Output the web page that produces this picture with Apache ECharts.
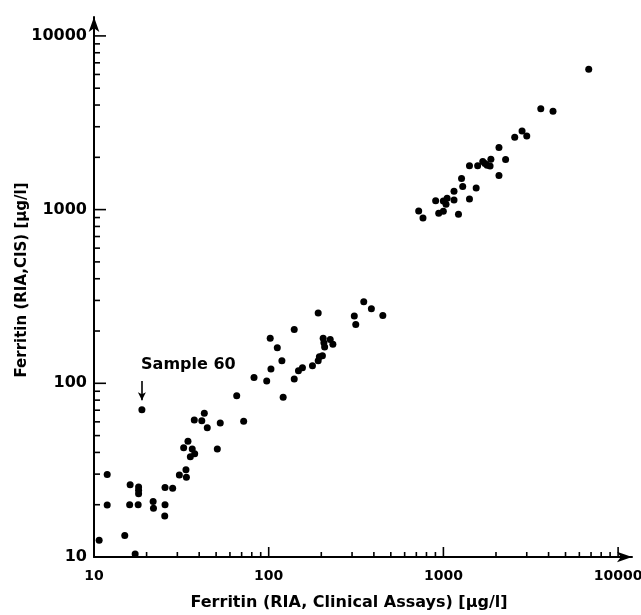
<!DOCTYPE html>
<html>
<head>
<meta charset="utf-8">
<script src="https://cdn.jsdelivr.net/npm/echarts@6/dist/echarts.min.js"></script>
<style>
  html, body { margin: 0; background: #fff; }
  #chart { width: 641px; height: 615px; }
</style>
</head>
<body>
<div id="chart"></div>
<script>
// Ferritin, clinical assays (x) vs RIA CIS (y), µg/l
const clinicalAssays = [
  10.7, 11.9, 11.9, 15.0, 16.1, 16.0, 17.2, 18.0, 18.0, 18.0, 17.9, 18.8,
  21.8, 21.9, 25.5, 25.5, 25.4, 28.2, 30.8, 33.6, 33.8, 32.6, 34.5, 36.5,
  35.6, 37.7, 37.5, 41.4, 42.8, 44.5, 50.8, 52.8, 65.6, 71.9, 82.4, 97.4,
  103, 121, 119, 112, 102, 140, 140, 148, 156, 178, 192, 195, 203, 192,
  205, 207, 209, 225, 233, 309, 315, 350, 387, 450,
  6790, 3610, 4240, 2820, 2560, 3000, 2080, 2270, 1870, 1680, 1730, 1780,
  1850, 1410, 1570, 2080, 1270, 1290, 1540, 1150, 1150, 1410, 903, 999,
  1050, 1035, 940, 999, 1220, 722, 764
];
const ciaCis = [
  12.5, 29.9, 19.9, 13.3, 26.1, 20.0, 10.4, 25.3, 24.2, 23.1, 20.0, 70.5,
  20.9, 19.1, 25.1, 20.0, 17.2, 24.9, 29.7, 31.8, 28.8, 42.6, 46.4, 41.9,
  37.8, 39.3, 61.5, 60.9, 67.2, 55.5, 41.9, 59.1, 84.8, 60.4, 108, 103,
  121, 83.1, 135, 160, 182, 204, 106, 118, 123, 126, 135, 142, 144, 254,
  182, 171, 162, 179, 168, 244, 218, 295, 269, 246,
  6420, 3810, 3680, 2835, 2610, 2650, 2280, 1940, 1950, 1890, 1840, 1800,
  1780, 1790, 1790, 1570, 1510, 1360, 1330, 1275, 1136, 1150, 1125, 1121,
  1162, 1073, 952, 978, 939, 982, 895
];

const MAJOR_TICKS = [10, 100, 1000, 10000];
const MINOR_TICKS = [
  20, 30, 40, 50, 60, 70, 80, 90,
  200, 300, 400, 500, 600, 700, 800, 900,
  2000, 3000, 4000, 5000, 6000, 7000, 8000, 9000
];

// annotation: label anchor and arrow from above to "Sample 60"
const SAMPLE_LABEL = [18.6, 127];
const SAMPLE_ARROW = [[18.8, 103], [18.8, 80]];

const AXIS_MIN = 10;
const X_MAX = 12010;
const Y_MAX = 12850;
const FONT = "DejaVu Sans";

const points = clinicalAssays.map((x, i) => [x, ciaCis[i]]);

function axis(max, extra) {
  return Object.assign({
    type: "log",
    min: AXIS_MIN,
    max: max,
    nameMoveOverlap: false,
    axisLine: {
      show: true,
      symbol: ["none", "arrow"],
      symbolSize: [8, 15],
      lineStyle: { color: "#000", width: 2 }
    },
    axisTick: { show: false },
    minorTick: { show: false },
    axisLabel: {
      customValues: MAJOR_TICKS,
      formatter: (v) => String(Math.round(v)),
      color: "#000",
      fontFamily: FONT,
      fontWeight: "bold"
    },
    splitLine: { show: false },
    nameTextStyle: { color: "#000", fontFamily: FONT, fontWeight: "bold" }
  }, extra);
}

// ticks drawn inward from each axis, placed by the chart's own log scales
function tickSeries(values, onX, len) {
  return {
    type: "custom",
    silent: true,
    clip: false,
    data: values.map((v) => (onX ? [v, AXIS_MIN] : [AXIS_MIN, v])),
    renderItem: (params, api) => {
      const p = api.coord([api.value(0), api.value(1)]);
      return {
        type: "line",
        shape: onX
          ? { x1: p[0], y1: p[1], x2: p[0], y2: p[1] - len }
          : { x1: p[0], y1: p[1], x2: p[0] + len, y2: p[1] },
        style: { stroke: "#000", lineWidth: 1.6 }
      };
    }
  };
}

const xMain = axis(X_MAX, {
  position: "bottom",
  name: "Ferritin (RIA, Clinical Assays) [µg/l]",
  nameLocation: "middle",
  nameGap: 38
});
xMain.axisLabel.fontSize = 14;
xMain.axisLabel.margin = 12;
xMain.nameTextStyle.fontSize = 16;
xMain.nameTextStyle.padding = [0, 28, 0, 0];

const yMain = axis(Y_MAX, {
  position: "left",
  name: "Ferritin (RIA,CIS) [µg/l]",
  nameLocation: "middle",
  nameGap: 64
});
yMain.axisLabel.fontSize = 16;
yMain.axisLabel.margin = 7;
yMain.nameTextStyle.fontSize = 15;
yMain.nameTextStyle.padding = [0, 0, 0, 14];

const chart = echarts.init(document.getElementById("chart"), null, { renderer: "canvas" });
chart.setOption({
  backgroundColor: "#fff",
  animation: false,
  grid: { left: 94, right: 9, top: 17, bottom: 58, containLabel: false, outerBoundsMode: "none" },
  xAxis: xMain,
  yAxis: yMain,
  series: [
    tickSeries(MAJOR_TICKS, true, 10),
    tickSeries(MINOR_TICKS, true, 5),
    tickSeries(MAJOR_TICKS, false, 12),
    tickSeries(MINOR_TICKS, false, 6),
    {
      type: "scatter",
      symbol: "circle",
      symbolSize: 7,
      itemStyle: { color: "#000", opacity: 1 },
      data: points
    },
    {
      type: "scatter",
      symbolSize: 0,
      silent: true,
      itemStyle: { opacity: 1 },
      data: [SAMPLE_LABEL],
      label: {
        show: true,
        position: "right",
        distance: 0,
        formatter: "Sample 60",
        color: "#000",
        fontFamily: FONT,
        fontWeight: "bold",
        fontSize: 16
      },
      markLine: {
        silent: true,
        symbol: ["none", "arrow"],
        symbolSize: [6, 8],
        lineStyle: { color: "#000", width: 1.6, type: "solid", opacity: 1 },
        label: { show: false },
        data: [[{ coord: SAMPLE_ARROW[0] }, { coord: SAMPLE_ARROW[1] }]]
      }
    }
  ]
});
</script>
</body>
</html>
